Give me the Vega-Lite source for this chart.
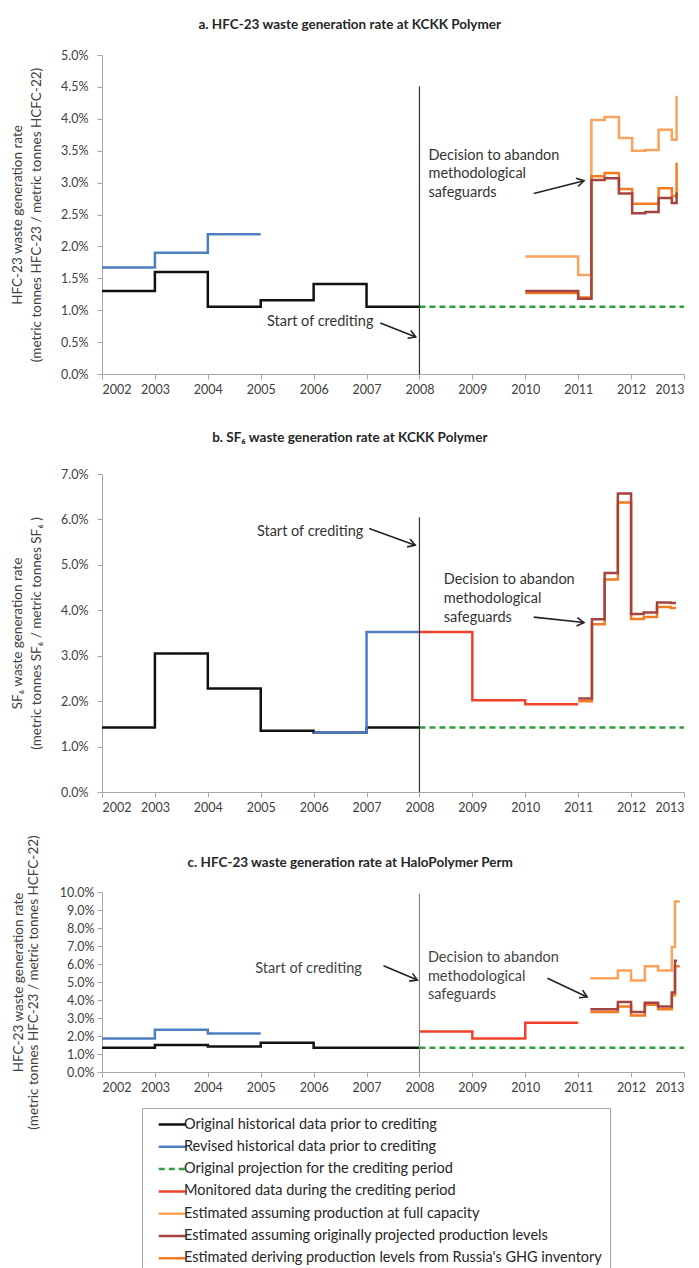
{
  "$schema": "https://vega.github.io/schema/vega-lite/v6.json",
  "background": "white",
  "padding": {"left": 10, "top": 17, "right": 5, "bottom": 0},
  "config": {
    "font": "Lato",
    "view": {"stroke": null},
    "axis": {"domainColor": "#A6A6A6", "tickColor": "#A6A6A6", "labelColor": "#404040", "titleColor": "#404040", "labelFontSize": 12.5, "titleFontSize": 13.5, "titleFontWeight": "normal", "grid": false, "tickSize": 5, "labelOverlap": false},
    "title": {"fontSize": 13.5, "fontWeight": "bold", "color": "#262626", "anchor": "middle", "frame": "bounds"},
    "legend": {"orient": "none", "legendX": 40, "legendY": 1053, "title": null, "direction": "vertical", "symbolType": "M-2,0H2", "symbolSize": 190, "symbolStrokeWidth": 2.5, "symbolOffset": 14, "labelFontSize": 14.5, "labelColor": "#262626", "rowPadding": 7.3, "padding": 8, "strokeColor": "#A6A6A6", "fillColor": "white", "labelOffset": 3, "labelLimit": 0}
  },
  "datasets": {
    "a": [
      {"series": "Original historical data prior to crediting", "year": 2002, "rate": 0.0130},
      {"series": "Original historical data prior to crediting", "year": 2003, "rate": 0.0160},
      {"series": "Original historical data prior to crediting", "year": 2004, "rate": 0.01055},
      {"series": "Original historical data prior to crediting", "year": 2005, "rate": 0.01155},
      {"series": "Original historical data prior to crediting", "year": 2006, "rate": 0.0141},
      {"series": "Original historical data prior to crediting", "year": 2007, "rate": 0.01055},
      {"series": "Original historical data prior to crediting", "year": 2008, "rate": 0.01055},
      {"series": "Revised historical data prior to crediting", "year": 2002, "rate": 0.0167},
      {"series": "Revised historical data prior to crediting", "year": 2003, "rate": 0.0190},
      {"series": "Revised historical data prior to crediting", "year": 2004, "rate": 0.0219},
      {"series": "Revised historical data prior to crediting", "year": 2005, "rate": 0.0219},
      {"series": "Original projection for the crediting period", "year": 2008, "rate": 0.01055},
      {"series": "Original projection for the crediting period", "year": 2013, "rate": 0.01055},
      {"series": "Estimated assuming production at full capacity", "year": 2010.0, "rate": 0.0184},
      {"series": "Estimated assuming production at full capacity", "year": 2011.0, "rate": 0.0155},
      {"series": "Estimated assuming production at full capacity", "year": 2011.25, "rate": 0.0398},
      {"series": "Estimated assuming production at full capacity", "year": 2011.5, "rate": 0.0403},
      {"series": "Estimated assuming production at full capacity", "year": 2011.77, "rate": 0.0370},
      {"series": "Estimated assuming production at full capacity", "year": 2012.02, "rate": 0.0350},
      {"series": "Estimated assuming production at full capacity", "year": 2012.27, "rate": 0.0351},
      {"series": "Estimated assuming production at full capacity", "year": 2012.52, "rate": 0.0383},
      {"series": "Estimated assuming production at full capacity", "year": 2012.77, "rate": 0.0367},
      {"series": "Estimated assuming production at full capacity", "year": 2012.86, "rate": 0.0436},
      {"series": "Estimated deriving production levels from Russia's GHG inventory", "year": 2010.0, "rate": 0.0127},
      {"series": "Estimated deriving production levels from Russia's GHG inventory", "year": 2011.0, "rate": 0.0120},
      {"series": "Estimated deriving production levels from Russia's GHG inventory", "year": 2011.25, "rate": 0.0310},
      {"series": "Estimated deriving production levels from Russia's GHG inventory", "year": 2011.5, "rate": 0.0315},
      {"series": "Estimated deriving production levels from Russia's GHG inventory", "year": 2011.77, "rate": 0.0290},
      {"series": "Estimated deriving production levels from Russia's GHG inventory", "year": 2012.02, "rate": 0.0267},
      {"series": "Estimated deriving production levels from Russia's GHG inventory", "year": 2012.27, "rate": 0.0267},
      {"series": "Estimated deriving production levels from Russia's GHG inventory", "year": 2012.52, "rate": 0.0291},
      {"series": "Estimated deriving production levels from Russia's GHG inventory", "year": 2012.77, "rate": 0.0279},
      {"series": "Estimated deriving production levels from Russia's GHG inventory", "year": 2012.86, "rate": 0.0331},
      {"series": "Estimated assuming originally projected production levels", "year": 2010.0, "rate": 0.0130},
      {"series": "Estimated assuming originally projected production levels", "year": 2011.0, "rate": 0.0118},
      {"series": "Estimated assuming originally projected production levels", "year": 2011.25, "rate": 0.0304},
      {"series": "Estimated assuming originally projected production levels", "year": 2011.5, "rate": 0.0307},
      {"series": "Estimated assuming originally projected production levels", "year": 2011.77, "rate": 0.0283},
      {"series": "Estimated assuming originally projected production levels", "year": 2012.02, "rate": 0.0252},
      {"series": "Estimated assuming originally projected production levels", "year": 2012.27, "rate": 0.0254},
      {"series": "Estimated assuming originally projected production levels", "year": 2012.52, "rate": 0.0276},
      {"series": "Estimated assuming originally projected production levels", "year": 2012.77, "rate": 0.0268},
      {"series": "Estimated assuming originally projected production levels", "year": 2012.86, "rate": 0.0285}
    ],
    "b": [
      {"series": "Original historical data prior to crediting", "year": 2002, "rate": 0.0142},
      {"series": "Original historical data prior to crediting", "year": 2003, "rate": 0.0305},
      {"series": "Original historical data prior to crediting", "year": 2004, "rate": 0.0228},
      {"series": "Original historical data prior to crediting", "year": 2005, "rate": 0.0135},
      {"series": "Original historical data prior to crediting", "year": 2006, "rate": 0.0131},
      {"series": "Original historical data prior to crediting", "year": 2007, "rate": 0.0142},
      {"series": "Original historical data prior to crediting", "year": 2008, "rate": 0.0142},
      {"series": "Revised historical data prior to crediting", "year": 2006, "rate": 0.0131},
      {"series": "Revised historical data prior to crediting", "year": 2007, "rate": 0.0352},
      {"series": "Revised historical data prior to crediting", "year": 2008, "rate": 0.0352},
      {"series": "Original projection for the crediting period", "year": 2008, "rate": 0.0142},
      {"series": "Original projection for the crediting period", "year": 2013, "rate": 0.0142},
      {"series": "Monitored data during the crediting period", "year": 2008, "rate": 0.0352},
      {"series": "Monitored data during the crediting period", "year": 2009, "rate": 0.0202},
      {"series": "Monitored data during the crediting period", "year": 2010, "rate": 0.0193},
      {"series": "Monitored data during the crediting period", "year": 2011, "rate": 0.0193},
      {"series": "Estimated deriving production levels from Russia's GHG inventory", "year": 2011.0, "rate": 0.0200},
      {"series": "Estimated deriving production levels from Russia's GHG inventory", "year": 2011.26, "rate": 0.0369},
      {"series": "Estimated deriving production levels from Russia's GHG inventory", "year": 2011.5, "rate": 0.0468},
      {"series": "Estimated deriving production levels from Russia's GHG inventory", "year": 2011.75, "rate": 0.0637},
      {"series": "Estimated deriving production levels from Russia's GHG inventory", "year": 2012.0, "rate": 0.0381},
      {"series": "Estimated deriving production levels from Russia's GHG inventory", "year": 2012.24, "rate": 0.0385},
      {"series": "Estimated deriving production levels from Russia's GHG inventory", "year": 2012.49, "rate": 0.0407},
      {"series": "Estimated deriving production levels from Russia's GHG inventory", "year": 2012.75, "rate": 0.0405},
      {"series": "Estimated deriving production levels from Russia's GHG inventory", "year": 2012.85, "rate": 0.0405},
      {"series": "Estimated assuming originally projected production levels", "year": 2011.0, "rate": 0.0206},
      {"series": "Estimated assuming originally projected production levels", "year": 2011.26, "rate": 0.0380},
      {"series": "Estimated assuming originally projected production levels", "year": 2011.5, "rate": 0.0482},
      {"series": "Estimated assuming originally projected production levels", "year": 2011.75, "rate": 0.0657},
      {"series": "Estimated assuming originally projected production levels", "year": 2012.0, "rate": 0.0392},
      {"series": "Estimated assuming originally projected production levels", "year": 2012.24, "rate": 0.0395},
      {"series": "Estimated assuming originally projected production levels", "year": 2012.49, "rate": 0.0417},
      {"series": "Estimated assuming originally projected production levels", "year": 2012.75, "rate": 0.0416},
      {"series": "Estimated assuming originally projected production levels", "year": 2012.85, "rate": 0.0416}
    ],
    "c": [
      {"series": "Original historical data prior to crediting", "year": 2002, "rate": 0.0135},
      {"series": "Original historical data prior to crediting", "year": 2003, "rate": 0.0150},
      {"series": "Original historical data prior to crediting", "year": 2004, "rate": 0.0141},
      {"series": "Original historical data prior to crediting", "year": 2005, "rate": 0.0163},
      {"series": "Original historical data prior to crediting", "year": 2006, "rate": 0.0135},
      {"series": "Original historical data prior to crediting", "year": 2007, "rate": 0.0135},
      {"series": "Original historical data prior to crediting", "year": 2008, "rate": 0.0135},
      {"series": "Revised historical data prior to crediting", "year": 2002, "rate": 0.0186},
      {"series": "Revised historical data prior to crediting", "year": 2003, "rate": 0.0235},
      {"series": "Revised historical data prior to crediting", "year": 2004, "rate": 0.0214},
      {"series": "Revised historical data prior to crediting", "year": 2005, "rate": 0.0214},
      {"series": "Original projection for the crediting period", "year": 2008, "rate": 0.0135},
      {"series": "Original projection for the crediting period", "year": 2013, "rate": 0.0135},
      {"series": "Monitored data during the crediting period", "year": 2008, "rate": 0.0225},
      {"series": "Monitored data during the crediting period", "year": 2009, "rate": 0.0186},
      {"series": "Monitored data during the crediting period", "year": 2010, "rate": 0.0274},
      {"series": "Monitored data during the crediting period", "year": 2011, "rate": 0.0274},
      {"series": "Estimated assuming production at full capacity", "year": 2011.23, "rate": 0.0521},
      {"series": "Estimated assuming production at full capacity", "year": 2011.75, "rate": 0.0564},
      {"series": "Estimated assuming production at full capacity", "year": 2012.0, "rate": 0.0508},
      {"series": "Estimated assuming production at full capacity", "year": 2012.26, "rate": 0.0587},
      {"series": "Estimated assuming production at full capacity", "year": 2012.51, "rate": 0.0564},
      {"series": "Estimated assuming production at full capacity", "year": 2012.77, "rate": 0.0694},
      {"series": "Estimated assuming production at full capacity", "year": 2012.83, "rate": 0.0947},
      {"series": "Estimated assuming production at full capacity", "year": 2012.92, "rate": 0.0947},
      {"series": "Estimated deriving production levels from Russia's GHG inventory", "year": 2011.23, "rate": 0.0333},
      {"series": "Estimated deriving production levels from Russia's GHG inventory", "year": 2011.75, "rate": 0.0364},
      {"series": "Estimated deriving production levels from Russia's GHG inventory", "year": 2012.0, "rate": 0.0314},
      {"series": "Estimated deriving production levels from Russia's GHG inventory", "year": 2012.26, "rate": 0.0374},
      {"series": "Estimated deriving production levels from Russia's GHG inventory", "year": 2012.51, "rate": 0.0348},
      {"series": "Estimated deriving production levels from Russia's GHG inventory", "year": 2012.77, "rate": 0.0427},
      {"series": "Estimated deriving production levels from Russia's GHG inventory", "year": 2012.83, "rate": 0.0587},
      {"series": "Estimated deriving production levels from Russia's GHG inventory", "year": 2012.92, "rate": 0.0587},
      {"series": "Estimated assuming originally projected production levels", "year": 2011.23, "rate": 0.0348},
      {"series": "Estimated assuming originally projected production levels", "year": 2011.75, "rate": 0.0389},
      {"series": "Estimated assuming originally projected production levels", "year": 2012.0, "rate": 0.0333},
      {"series": "Estimated assuming originally projected production levels", "year": 2012.26, "rate": 0.0385},
      {"series": "Estimated assuming originally projected production levels", "year": 2012.51, "rate": 0.0364},
      {"series": "Estimated assuming originally projected production levels", "year": 2012.77, "rate": 0.0442},
      {"series": "Estimated assuming originally projected production levels", "year": 2012.83, "rate": 0.0618},
      {"series": "Estimated assuming originally projected production levels", "year": 2012.87, "rate": 0.0618}
    ],
    "notes_a": [
      {"label": "Start of crediting", "year": 2007.13, "rate": 0.0082, "kind": "start"},
      {"label": "Decision to abandon\nmethodological\nsafeguards", "year": 2008.17, "rate": 0.0342, "kind": "decision"}
    ],
    "notes_b": [
      {"label": "Start of crediting", "year": 2006.94, "rate": 0.0572, "kind": "start"},
      {"label": "Decision to abandon\nmethodological\nsafeguards", "year": 2008.46, "rate": 0.0466, "kind": "decision"}
    ],
    "notes_c": [
      {"label": "Start of crediting", "year": 2006.91, "rate": 0.0571, "kind": "start"},
      {"label": "Decision to abandon\nmethodological\nsafeguards", "year": 2008.16, "rate": 0.0633, "kind": "decision"}
    ],
    "arrows_a": [
      {"kind": "start", "year": 2007.26, "rate": 0.0080, "year2": 2007.93, "rate2": 0.0058},
      {"kind": "decision", "year": 2010.16, "rate": 0.0283, "year2": 2011.11, "rate2": 0.0303}
    ],
    "arrows_b": [
      {"kind": "start", "year": 2007.05, "rate": 0.0580, "year2": 2007.92, "rate2": 0.0543},
      {"kind": "decision", "year": 2010.16, "rate": 0.0385, "year2": 2011.11, "rate2": 0.0373}
    ],
    "arrows_c": [
      {"kind": "start", "year": 2007.32, "rate": 0.0590, "year2": 2007.96, "rate2": 0.0511},
      {"kind": "decision", "year": 2010.42, "rate": 0.0521, "year2": 2011.17, "rate2": 0.0417}
    ],
    "heads_a": [
      {"kind": "start", "year": 2007.93, "rate": 0.0058},
      {"kind": "decision", "year": 2011.11, "rate": 0.0303}
    ],
    "heads_b": [
      {"kind": "start", "year": 2007.92, "rate": 0.0543},
      {"kind": "decision", "year": 2011.11, "rate": 0.0373}
    ],
    "heads_c": [
      {"kind": "start", "year": 2007.96, "rate": 0.0511},
      {"kind": "decision", "year": 2011.17, "rate": 0.0417}
    ],
    "vline_a": [{"year": 2008, "rate": 0, "rate2": 0.0451}],
    "vline_b": [{"year": 2008, "rate": 0, "rate2": 0.0605}],
    "vline_c": [{"year": 2008, "rate": 0, "rate2": 0.099}]
  },
  "spacing": 100,
  "bounds": "flush",
  "vconcat": [
    {
      "title": {"text": "a. HFC-23 waste generation rate at KCKK Polymer", "offset": 18},
      "width": 582,
      "height": 319,
      "encoding": {
        "x": {"field": "year", "type": "quantitative", "scale": {"domain": [2002, 2013], "nice": false, "zero": false}, "axis": {"values": [2002, 2003, 2004, 2005, 2006, 2007, 2008, 2009, 2010, 2011, 2012, 2013], "format": "d", "title": null, "labelPadding": 4, "labelOverlap": false}},
        "y": {"field": "rate", "type": "quantitative", "scale": {"domain": [0, 0.05], "nice": false}, "axis": {"values": [0, 0.005, 0.01, 0.015, 0.02, 0.025, 0.03, 0.035, 0.04, 0.045, 0.05], "format": ".1%", "labelOverlap": false, "labelPadding": 9, "titlePadding": 17, "titleLineHeight": 19, "title": ["HFC-23 waste generation rate", "(metric tonnes HFC-23 / metric tonnes HCFC-22)"]}}
      },
      "layer": [
        {
          "data": {"name": "a"},
          "mark": {"type": "line", "interpolate": "step-after", "strokeWidth": 2.5},
          "encoding": {
            "color": {"field": "series", "type": "nominal", "scale": {"domain": ["Original historical data prior to crediting", "Revised historical data prior to crediting", "Original projection for the crediting period", "Monitored data during the crediting period", "Estimated assuming production at full capacity", "Estimated assuming originally projected production levels", "Estimated deriving production levels from Russia's GHG inventory"], "range": ["#111111", "#4F7EC0", "#2E9E3E", "#F2412A", "#F9A25B", "#A5433E", "#F37B21"]}},
            "strokeDash": {"field": "series", "type": "nominal", "scale": {"domain": ["Original historical data prior to crediting", "Revised historical data prior to crediting", "Original projection for the crediting period", "Monitored data during the crediting period", "Estimated assuming production at full capacity", "Estimated assuming originally projected production levels", "Estimated deriving production levels from Russia's GHG inventory"], "range": [[1, 0], [1, 0], [6, 4], [1, 0], [1, 0], [1, 0], [1, 0]]}}
          }
        },
        {"data": {"name": "vline_a"}, "mark": {"type": "rule", "color": "#333333", "strokeWidth": 1.2}, "encoding": {"y2": {"field": "rate2"}}},
        {"data": {"name": "notes_a"}, "transform": [{"filter": "datum.kind === 'start'"}], "mark": {"type": "text", "fontSize": 14.5, "color": "#333333", "baseline": "middle", "align": "right"}, "encoding": {"text": {"field": "label"}}},
        {"data": {"name": "notes_a"}, "transform": [{"filter": "datum.kind === 'decision'"}], "mark": {"type": "text", "lineBreak": "\n", "lineHeight": 18.7, "fontSize": 14.5, "color": "#333333", "baseline": "middle", "align": "left"}, "encoding": {"text": {"field": "label"}}},
        {"data": {"name": "arrows_a"}, "mark": {"type": "rule", "color": "#222222", "strokeWidth": 1.6}, "encoding": {"x2": {"field": "year2"}, "y2": {"field": "rate2"}}},
        {"data": {"name": "heads_a"}, "transform": [{"filter": "datum.kind === 'start'"}], "mark": {"type": "point", "shape": "M-1,-0.6L0,0L-1,0.6", "filled": false, "stroke": "#222222", "strokeWidth": 1.6, "size": 200, "angle": 22, "opacity": 1}},
        {"data": {"name": "heads_a"}, "transform": [{"filter": "datum.kind === 'decision'"}], "mark": {"type": "point", "shape": "M-1,-0.6L0,0L-1,0.6", "filled": false, "stroke": "#222222", "strokeWidth": 1.6, "size": 200, "angle": 346, "opacity": 1}}
      ]
    },
    {
      "title": {"text": "b. SF₆ waste generation rate at KCKK Polymer", "offset": 24},
      "width": 582,
      "height": 318,
      "encoding": {
        "x": {"field": "year", "type": "quantitative", "scale": {"domain": [2002, 2013], "nice": false, "zero": false}, "axis": {"values": [2002, 2003, 2004, 2005, 2006, 2007, 2008, 2009, 2010, 2011, 2012, 2013], "format": "d", "title": null, "labelPadding": 4, "labelOverlap": false}},
        "y": {"field": "rate", "type": "quantitative", "scale": {"domain": [0, 0.07], "nice": false}, "axis": {"values": [0, 0.01, 0.02, 0.03, 0.04, 0.05, 0.06, 0.07], "format": ".1%", "labelOverlap": false, "labelPadding": 9, "titlePadding": 17, "titleLineHeight": 19, "title": ["SF₆ waste generation rate", "(metric tonnes SF₆ / metric tonnes SF₆ )"]}}
      },
      "layer": [
        {
          "data": {"name": "b"},
          "mark": {"type": "line", "interpolate": "step-after", "strokeWidth": 2.5},
          "encoding": {
            "color": {"field": "series", "type": "nominal", "scale": {"domain": ["Original historical data prior to crediting", "Revised historical data prior to crediting", "Original projection for the crediting period", "Monitored data during the crediting period", "Estimated assuming production at full capacity", "Estimated assuming originally projected production levels", "Estimated deriving production levels from Russia's GHG inventory"], "range": ["#111111", "#4F7EC0", "#2E9E3E", "#F2412A", "#F9A25B", "#A5433E", "#F37B21"]}},
            "strokeDash": {"field": "series", "type": "nominal", "scale": {"domain": ["Original historical data prior to crediting", "Revised historical data prior to crediting", "Original projection for the crediting period", "Monitored data during the crediting period", "Estimated assuming production at full capacity", "Estimated assuming originally projected production levels", "Estimated deriving production levels from Russia's GHG inventory"], "range": [[1, 0], [1, 0], [6, 4], [1, 0], [1, 0], [1, 0], [1, 0]]}}
          }
        },
        {"data": {"name": "vline_b"}, "mark": {"type": "rule", "color": "#333333", "strokeWidth": 1.2}, "encoding": {"y2": {"field": "rate2"}}},
        {"data": {"name": "notes_b"}, "transform": [{"filter": "datum.kind === 'start'"}], "mark": {"type": "text", "fontSize": 14.5, "color": "#333333", "baseline": "middle", "align": "right"}, "encoding": {"text": {"field": "label"}}},
        {"data": {"name": "notes_b"}, "transform": [{"filter": "datum.kind === 'decision'"}], "mark": {"type": "text", "lineBreak": "\n", "lineHeight": 18.7, "fontSize": 14.5, "color": "#333333", "baseline": "middle", "align": "left"}, "encoding": {"text": {"field": "label"}}},
        {"data": {"name": "arrows_b"}, "mark": {"type": "rule", "color": "#222222", "strokeWidth": 1.6}, "encoding": {"x2": {"field": "year2"}, "y2": {"field": "rate2"}}},
        {"data": {"name": "heads_b"}, "transform": [{"filter": "datum.kind === 'start'"}], "mark": {"type": "point", "shape": "M-1,-0.6L0,0L-1,0.6", "filled": false, "stroke": "#222222", "strokeWidth": 1.6, "size": 200, "angle": 20, "opacity": 1}},
        {"data": {"name": "heads_b"}, "transform": [{"filter": "datum.kind === 'decision'"}], "mark": {"type": "point", "shape": "M-1,-0.6L0,0L-1,0.6", "filled": false, "stroke": "#222222", "strokeWidth": 1.6, "size": 200, "angle": 6, "opacity": 1}}
      ]
    },
    {
      "title": {"text": "c. HFC-23 waste generation rate at HaloPolymer Perm", "offset": -35},
      "width": 582,
      "height": 180,
      "encoding": {
        "x": {"field": "year", "type": "quantitative", "scale": {"domain": [2002, 2013], "nice": false, "zero": false}, "axis": {"values": [2002, 2003, 2004, 2005, 2006, 2007, 2008, 2009, 2010, 2011, 2012, 2013], "format": "d", "title": null, "labelPadding": 4, "labelOverlap": false}},
        "y": {"field": "rate", "type": "quantitative", "scale": {"domain": [0, 0.1], "nice": false}, "axis": {"values": [0, 0.01, 0.02, 0.03, 0.04, 0.05, 0.06, 0.07, 0.08, 0.09, 0.1], "format": ".1%", "labelOverlap": false, "labelPadding": 3, "titlePadding": 19, "titleLineHeight": 15, "title": ["HFC-23 waste generation rate", "(metric tonnes HFC-23 / metric tonnes HCFC-22)"]}}
      },
      "layer": [
        {
          "data": {"name": "c"},
          "mark": {"type": "line", "interpolate": "step-after", "strokeWidth": 2.5},
          "encoding": {
            "color": {"field": "series", "type": "nominal", "scale": {"domain": ["Original historical data prior to crediting", "Revised historical data prior to crediting", "Original projection for the crediting period", "Monitored data during the crediting period", "Estimated assuming production at full capacity", "Estimated assuming originally projected production levels", "Estimated deriving production levels from Russia's GHG inventory"], "range": ["#111111", "#4F7EC0", "#2E9E3E", "#F2412A", "#F9A25B", "#A5433E", "#F37B21"]}},
            "strokeDash": {"field": "series", "type": "nominal", "scale": {"domain": ["Original historical data prior to crediting", "Revised historical data prior to crediting", "Original projection for the crediting period", "Monitored data during the crediting period", "Estimated assuming production at full capacity", "Estimated assuming originally projected production levels", "Estimated deriving production levels from Russia's GHG inventory"], "range": [[1, 0], [1, 0], [6, 4], [1, 0], [1, 0], [1, 0], [1, 0]]}}
          }
        },
        {"data": {"name": "vline_c"}, "mark": {"type": "rule", "color": "#888888", "strokeWidth": 1.2}, "encoding": {"y2": {"field": "rate2"}}},
        {"data": {"name": "notes_c"}, "transform": [{"filter": "datum.kind === 'start'"}], "mark": {"type": "text", "fontSize": 14.5, "color": "#444444", "baseline": "middle", "align": "right"}, "encoding": {"text": {"field": "label"}}},
        {"data": {"name": "notes_c"}, "transform": [{"filter": "datum.kind === 'decision'"}], "mark": {"type": "text", "lineBreak": "\n", "lineHeight": 18.7, "fontSize": 14.5, "color": "#444444", "baseline": "middle", "align": "left"}, "encoding": {"text": {"field": "label"}}},
        {"data": {"name": "arrows_c"}, "mark": {"type": "rule", "color": "#222222", "strokeWidth": 1.6}, "encoding": {"x2": {"field": "year2"}, "y2": {"field": "rate2"}}},
        {"data": {"name": "heads_c"}, "transform": [{"filter": "datum.kind === 'start'"}], "mark": {"type": "point", "shape": "M-1,-0.6L0,0L-1,0.6", "filled": false, "stroke": "#222222", "strokeWidth": 1.6, "size": 200, "angle": 23, "opacity": 1}},
        {"data": {"name": "heads_c"}, "transform": [{"filter": "datum.kind === 'decision'"}], "mark": {"type": "point", "shape": "M-1,-0.6L0,0L-1,0.6", "filled": false, "stroke": "#222222", "strokeWidth": 1.6, "size": 200, "angle": 25, "opacity": 1}}
      ]
    }
  ]
}
